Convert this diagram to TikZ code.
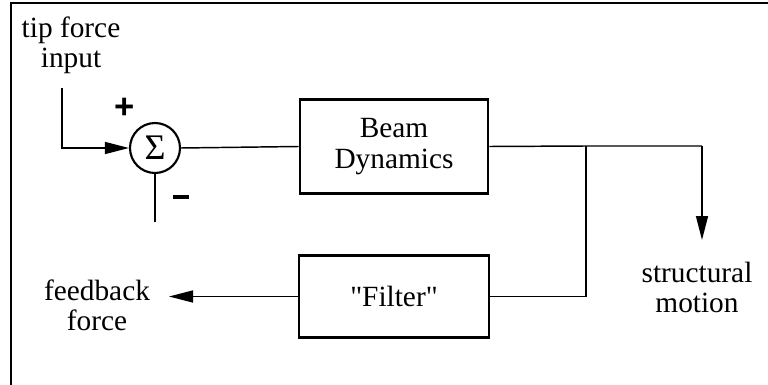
\documentclass[tikz,border=0pt]{standalone}
\usepackage{fontspec}
\setmainfont{Liberation Serif}
\newfontfamily\signfont{Liberation Sans}
\usetikzlibrary{arrows.meta}
\begin{document}
\begin{tikzpicture}[x=0.75pt,y=-0.75pt,
  txt/.style={align=center,font=\fontsize{22}{22.5}\selectfont,inner sep=0pt},
  blk/.style={draw,line width=2.2pt,minimum width=141pt,minimum height=70pt,inner sep=0pt,align=center,font=\fontsize{22}{23.5}\selectfont},
  sumnode/.style={draw,circle,line width=1.6pt,minimum size=37.5pt,inner sep=0pt},
  wire/.style={line width=1.1pt},
  arr/.style={wire,-{Triangle[length=18pt,width=9pt]}},
  sign/.style={inner sep=0pt}]
\useasboundingbox (0,0) rectangle (768,385);
% frame
\draw[line width=1.5pt] (11,385) -- (11,3) -- (768,3);
% labels
\node[txt] (tip) at (71,45) {tip force\\input};
\node[txt] (fb) at (97,305) {feedback\\force};
\node[txt] (sm) at (697,287) {structural\\motion};
% blocks
\node[sumnode] (sum) at (155,148) {\fontsize{27}{27}\selectfont Σ};
\node[blk] (beam) at (394,146.5) {Beam\\Dynamics};
\node[blk,minimum width=142.5pt,minimum height=62pt] (filt) at (394,296.5) {\textquotedbl Filter\textquotedbl};
\node[sign,font=\signfont\bfseries\fontsize{26}{26}\selectfont] (plus) at (125,108) {+};
\node[sign] (minus) at (181,197) {\rule{12pt}{2.3pt}};
% coordinates
\coordinate (in) at (62,88);
\coordinate (inc) at (62,148);
\coordinate (mn) at (155,222);
\coordinate (jn) at (586,146);
\coordinate (oc) at (702,146);
\coordinate (ot) at (702,240);
\coordinate (jf) at (586,296.5);
\coordinate (ft) at (169,296.5);
% wires
\draw[arr] (in) -- (inc) -- (sum.west);
\draw[wire] (sum.south) -- (mn);
\draw[wire] (sum.east) -- (beam.west);
\draw[wire] (beam.east) -- (jn) -- (oc);
\draw[arr] (oc) -- (ot);
\draw[wire] (jn) -- (jf) -- (filt.east);
\draw[arr] (filt.west) -- (ft);
\end{tikzpicture}
\end{document}
